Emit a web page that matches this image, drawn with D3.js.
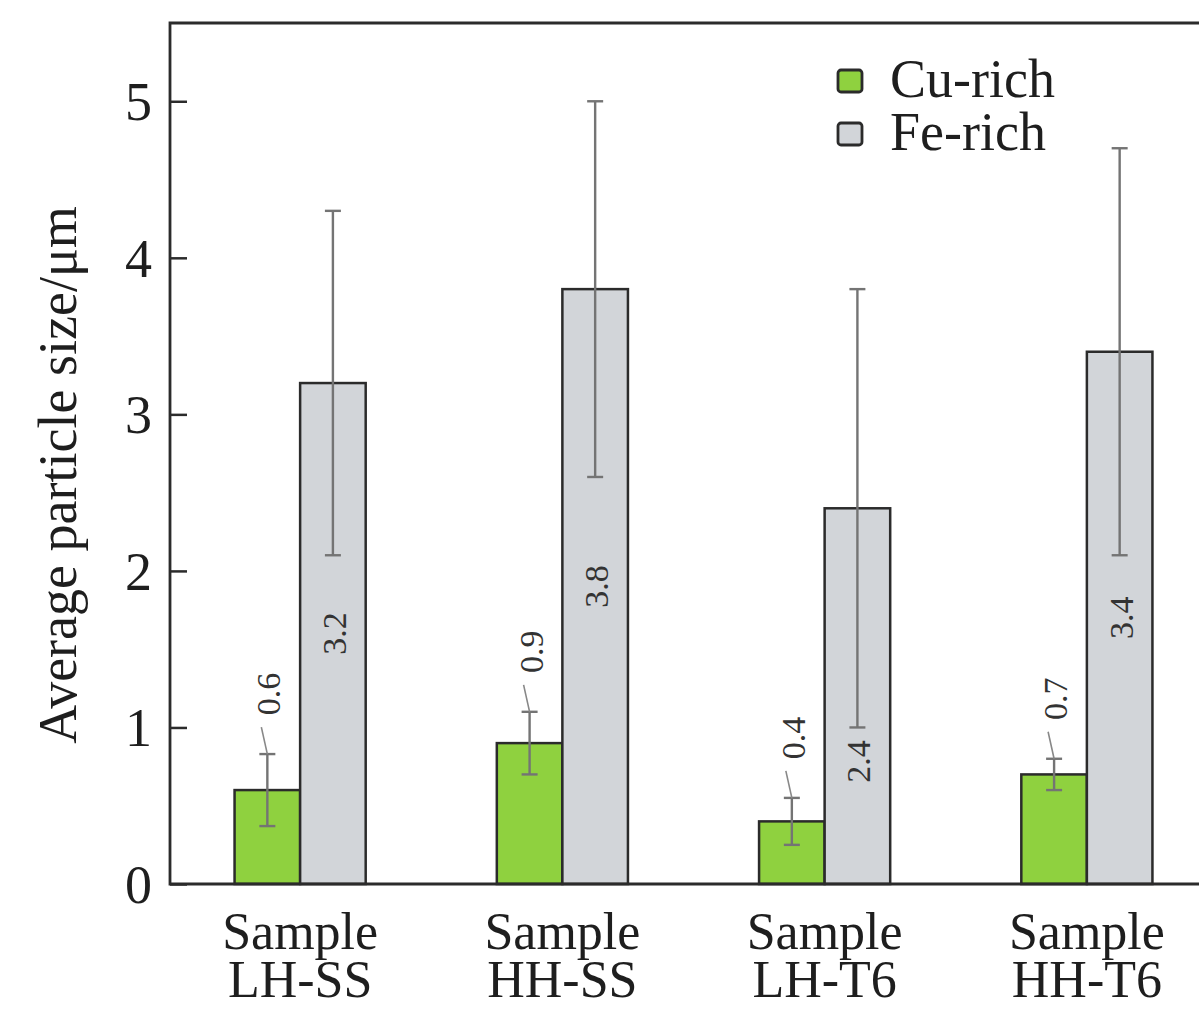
<!DOCTYPE html>
<html>
<head>
<meta charset="utf-8">
<script src="https://cdn.jsdelivr.net/npm/d3@7/dist/d3.min.js"></script>
<style>
  html, body { margin: 0; padding: 0; background: #fff; }
  svg { display: block; }
</style>
</head>
<body>
<script>
const categories = ["Sample\nLH-SS", "Sample\nHH-SS", "Sample\nLH-T6", "Sample\nHH-T6"];
const series = ["Cu-rich", "Fe-rich"];
const cuValues = [0.6, 0.9, 0.4, 0.7];
const cuErrors = [0.23, 0.2, 0.15, 0.1];
const feValues = [3.2, 3.8, 2.4, 3.4];
const feErrors = [1.1, 1.2, 1.4, 1.3];
const yTicks = [0, 1, 2, 3, 4, 5];
const yTitle = "Average particle size/μm";

const W = 1199, H = 1009;
const mLeft = 170, mTop = 23, mBottom = 884, mRight = 1218;
const colors = { "Cu-rich": "#8fd13f", "Fe-rich": "#d2d5d9" };

const svg = d3.select("body").append("svg").attr("width", W).attr("height", H);

const y = d3.scaleLinear().domain([0, 5.5]).range([mBottom, mTop]);
const x0 = d3.scaleBand().domain(categories).range([mLeft - 1, mRight]).paddingInner(0.5).paddingOuter(0.25);
const x1 = d3.scaleBand().domain(series).range([0, x0.bandwidth()]);

const data = categories.map((c, i) => ({
  cat: c,
  items: [
    { s: "Cu-rich", v: cuValues[i], e: cuErrors[i] },
    { s: "Fe-rich", v: feValues[i], e: feErrors[i] }
  ]
}));

const serif = "'Liberation Serif', 'Times New Roman', serif";
const textCol = "#1e1e1e";

// bars
const g = svg.append("g");
data.forEach(d => {
  d.items.forEach(it => {
    const bx = x0(d.cat) + x1(it.s);
    g.append("rect")
      .attr("x", bx).attr("y", y(it.v))
      .attr("width", x1.bandwidth()).attr("height", y(0) - y(it.v))
      .attr("fill", colors[it.s]).attr("stroke", "#2b2b2b").attr("stroke-width", 2.5);
  });
});

// error bars
data.forEach(d => {
  d.items.forEach(it => {
    const cx = x0(d.cat) + x1(it.s) + x1.bandwidth() / 2;
    const eg = g.append("g").attr("stroke", "#747474").attr("stroke-width", 2.4);
    eg.append("line").attr("x1", cx).attr("x2", cx).attr("y1", y(it.v + it.e)).attr("y2", y(it.v - it.e));
    eg.append("line").attr("x1", cx - 8).attr("x2", cx + 8).attr("y1", y(it.v + it.e)).attr("y2", y(it.v + it.e));
    eg.append("line").attr("x1", cx - 8).attr("x2", cx + 8).attr("y1", y(it.v - it.e)).attr("y2", y(it.v - it.e));
  });
});

// value labels
data.forEach(d => {
  d.items.forEach(it => {
    const cx = x0(d.cat) + x1(it.s) + x1.bandwidth() / 2;
    let ly;
    if (it.s === "Cu-rich") {
      const ty = y(it.v + it.e);
      g.append("line").attr("x1", cx - 6).attr("y1", ty - 27).attr("x2", cx).attr("y2", ty)
        .attr("stroke", "#888").attr("stroke-width", 1.6);
      ly = ty - 27 - 33;
    } else {
      ly = Math.max(y(it.v / 2), y(it.v - it.e) + 34);
    }
    g.append("text")
      .attr("transform", `translate(${cx + 1},${ly}) rotate(-90)`)
      .attr("text-anchor", "middle").attr("dy", "0.35em")
      .attr("font-family", serif)
      .attr("font-size", 34).attr("fill", "#333")
      .text(it.v.toFixed(1));
  });
});

// frame
svg.append("path")
  .attr("d", `M${W + 5},${mTop} H${mLeft} V${mBottom} H${W + 5}`)
  .attr("fill", "none").attr("stroke", "#2b2b2b").attr("stroke-width", 2.8);

// y axis ticks (inside) and labels
const yg = svg.append("g").attr("transform", `translate(${mLeft},0)`);
yg.call(d3.axisRight(y).tickValues(yTicks).tickSize(17).tickFormat(""));
yg.select(".domain").remove();
yg.selectAll(".tick line").attr("stroke", "#2b2b2b").attr("stroke-width", 2.5);
svg.append("g").selectAll("text").data(yTicks).join("text")
  .attr("x", 152).attr("y", d => y(d)).attr("dy", "0.35em")
  .attr("text-anchor", "end")
  .attr("font-family", serif)
  .attr("font-size", 54).attr("fill", textCol)
  .text(d => d);

// y title
svg.append("text")
  .attr("transform", `translate(76,475) rotate(-90)`)
  .attr("text-anchor", "middle")
  .attr("font-family", serif)
  .attr("font-size", 54).attr("fill", textCol)
  .text(yTitle);

// x labels (two lines in one text element)
categories.forEach(c => {
  const cx = x0(c) + x0.bandwidth() / 2;
  const t = svg.append("text")
    .attr("x", cx).attr("y", 949)
    .attr("text-anchor", "middle")
    .attr("font-family", serif)
    .attr("font-size", 52).attr("fill", textCol);
  c.split("\n").forEach((line, i) => {
    t.append("tspan").attr("x", cx).attr("dy", i === 0 ? 0 : 48).text(line);
  });
});

// legend
const lg = svg.append("g").attr("transform", "translate(838,70)");
series.forEach((s, i) => {
  lg.append("rect").attr("x", 0).attr("y", i * 53).attr("width", 24).attr("height", 22).attr("rx", 3)
    .attr("fill", colors[s]).attr("stroke", "#2b2b2b").attr("stroke-width", 2.8);
  lg.append("text").attr("x", 52).attr("y", i * 53 + 27)
    .attr("font-family", serif)
    .attr("font-size", 54).attr("fill", textCol)
    .text(s);
});
</script>
</body>
</html>
